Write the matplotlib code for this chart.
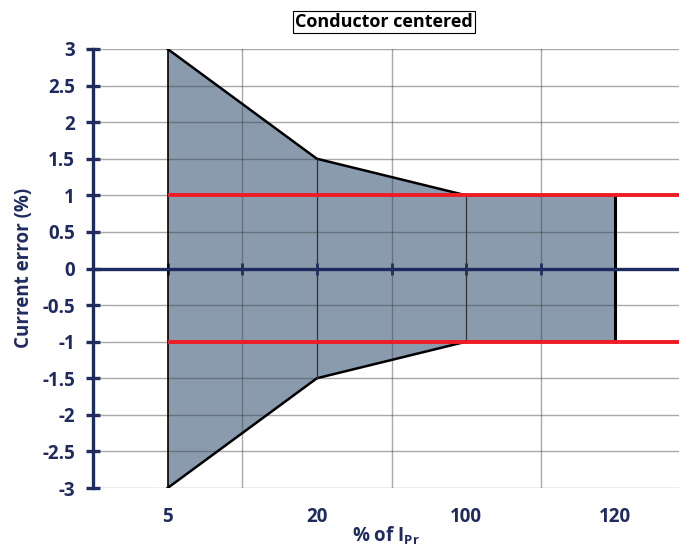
import matplotlib
matplotlib.use("Agg")
import matplotlib.pyplot as plt
import matplotlib.transforms as mtransforms
import numpy as np

NAVY = "#1f2a5e"
FILL = "#8a9bae"
RED = "#ee1c25"
FONT = "Open Sans"
FS = 13.5

plt.rcParams["font.family"] = [FONT, "DejaVu Sans"]
plt.rcParams["font.weight"] = "bold"
plt.rcParams["mathtext.fontset"] = "custom"
plt.rcParams["mathtext.rm"] = f"{FONT}:bold"
plt.rcParams["mathtext.it"] = f"{FONT}:bold"
plt.rcParams["mathtext.bf"] = f"{FONT}:bold"

# data
categories = ["5", "20", "100", "120"]
upper_limit = [3.0, 1.5, 1.0, 1.0]
lower_limit = [-3.0, -1.5, -1.0, -1.0]
class_limit = 1.0
y_ticks = [-3, -2.5, -2, -1.5, -1, -0.5, 0, 0.5, 1, 1.5, 2, 2.5, 3]

x = np.arange(len(categories))

fig = plt.figure(figsize=(6.79, 5.48), dpi=100)
ax = fig.add_axes([93 / 679, 60 / 548, 597 / 679, 439 / 548])
ax.set_xlim(-0.5, len(categories) - 0.5)
ax.set_ylim(-3, 3)

# grid (drawn above the fill so it shows through darker)
ax.set_yticks(y_ticks)
ax.set_yticklabels([f"{v:g}" for v in y_ticks])
for yv in y_ticks:
    ax.axhline(yv, color="#404040", alpha=0.45, lw=1.0, zorder=2)
for xv in x + 0.5:
    ax.axvline(xv, color="#404040", alpha=0.45, lw=1.0, zorder=2)

# accuracy envelope
ax.fill_between(x, lower_limit, upper_limit, color=FILL, lw=0, zorder=1)
ax.plot(x, upper_limit, color="black", lw=1.8, zorder=3)
ax.plot(x, lower_limit, color="black", lw=1.8, zorder=3)
ax.plot([x[0], x[0]], [lower_limit[0], upper_limit[0]], color="black", lw=1.2, zorder=3)
for i in x[1:-1]:
    ax.plot([i, i], [lower_limit[i], upper_limit[i]], color="#333333", lw=0.9, zorder=3)
ax.plot([x[-1], x[-1]], [lower_limit[-1], upper_limit[-1]], color="black", lw=2.2, zorder=3)

# class limits
ax.plot([x[0], len(categories) - 0.5], [class_limit, class_limit], color=RED, lw=2.8, zorder=4,
        solid_capstyle="butt")
ax.plot([x[0], len(categories) - 0.5], [-class_limit, -class_limit], color=RED, lw=2.8, zorder=4,
        solid_capstyle="butt")

# axes styling
for s in ["top", "right"]:
    ax.spines[s].set_visible(False)
ax.spines["left"].set_color(NAVY)
ax.spines["left"].set_linewidth(2.4)
ax.spines["bottom"].set_position(("data", 0))
ax.spines["bottom"].set_color(NAVY)
ax.spines["bottom"].set_linewidth(2.4)
ax.spines["bottom"].set_zorder(5)
ax.spines["left"].set_zorder(5)

ax.set_xticks(np.arange(0, len(categories) - 0.5, 0.5))
ax.set_xticklabels([])
ax.tick_params(axis="x", direction="inout", length=8, width=2, color=NAVY)
ax.tick_params(axis="y", direction="inout", length=10, width=2.4, color=NAVY,
               labelcolor=NAVY, labelsize=FS, pad=8)
for lab in ax.get_yticklabels():
    lab.set_fontweight("bold")

trans = mtransforms.blended_transform_factory(ax.transData, ax.transAxes)
for xi, cat in zip(x, categories):
    ax.text(xi, -29 / 439, cat, transform=trans, ha="center", va="center",
            color=NAVY, fontsize=FS, fontweight="bold")

fig.text(24 / 679, 1 - 268 / 548, "Current error (%)", rotation=90, ha="center", va="center",
         color=NAVY, fontsize=FS, fontweight="bold")
fig.text(386 / 679, 1 - 536 / 548, r"% of $\mathrm{I_{Pr}}$", ha="center", va="center",
         color=NAVY, fontsize=FS, fontweight="bold")

fig.text(384 / 679, 1 - 22 / 548, "Conductor centered", ha="center", va="center",
         color="black", fontsize=13, fontweight="bold",
         bbox=dict(boxstyle="square,pad=0.12", fc="white", ec="black", lw=0.8))

fig.savefig("out.png", dpi=100)
